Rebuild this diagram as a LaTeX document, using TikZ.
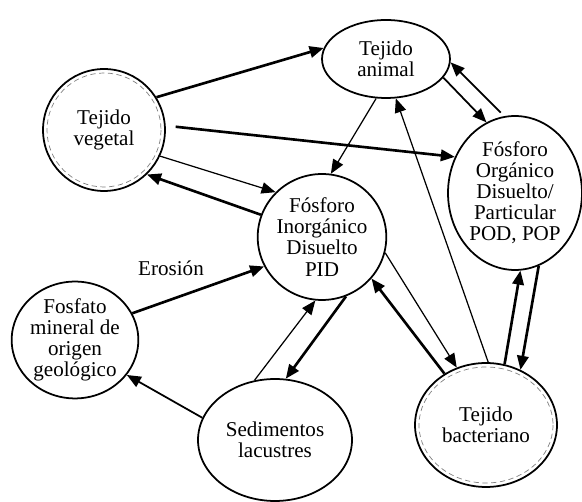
\documentclass[tikz,border=0pt]{standalone}
\usepackage{fontspec}
\setmainfont{Liberation Serif}
\usetikzlibrary{arrows.meta,shapes.geometric}

\begin{document}
\begin{tikzpicture}[x=0.02cm,y=-0.02cm,font=\fontsize{12}{12}\selectfont,
   comp/.style={draw,ellipse,line width=1pt,inner sep=0pt,align=center},
   flecha/.style={-{Triangle[length=8pt,width=6.5pt]}},
   gruesa/.style={flecha,line width=1.5pt},
   media/.style={flecha,line width=1pt},
   fina/.style={flecha,line width=0.7pt}]
  \useasboundingbox (0,0) rectangle (582,502);
  % compartimentos
  \node[comp,minimum width=2.44cm,minimum height=2.44cm] (veg) at (104,130) {Tejido\\vegetal};
  \node[comp,minimum width=2.56cm,minimum height=1.56cm] (ani) at (386,59) {Tejido\\animal};
  \node[comp,minimum width=2.68cm,minimum height=3.08cm] (pod) at (515,193)
       {Fósforo\\Orgánico\\Disuelto/\\Particular\\POD, POP};
  \node[comp,minimum width=2.56cm,minimum height=2.52cm] (pid) at (322,237)
       {Fósforo\\Inorgánico\\Disuelto\\PID};
  \node[comp,minimum width=2.48cm,minimum height=2.32cm] (fos) at (75,340)
       {Fosfato\\mineral de\\origen\\geológico};
  \node[comp,minimum width=3.08cm,minimum height=2.44cm] (sed) at (275,440) {Sedimentos\\lacustres};
  \node[comp,minimum width=2.84cm,minimum height=2.48cm] (bac) at (486,425) {Tejido\\bacteriano};
  \draw[gray,thin,densely dashed] (veg.center) circle[radius=57];
  \draw[gray,thin,densely dashed] (bac.center) ellipse[x radius=67,y radius=58];
  \node (eros) at (171,268) {Erosión};
  % flujos
  \draw[gruesa] (veg.32) -- (ani.170);
  \draw[gruesa,shorten <=2mm] (veg.4) -- (pod.149);
  \draw[fina] (veg.-25) -- (pid.136);
  \draw[gruesa] (pid.160) -- (veg.-46);
  \draw[fina] (ani.-104) -- (pid.82);
  \draw[media] (ani.-18) -- (pod.112);
  \draw[media,shorten <=1mm] (pod.98) -- (ani.-3);
  \draw[fina] (bac.88) -- (ani.-76);
  \draw[gruesa] (bac.73) -- (pod.-86);
  \draw[gruesa] (pod.-72) -- (bac.58);
  \draw[fina] (pid.-14) -- (bac.117);
  \draw[gruesa] (bac.129) -- (pid.-40);
  \draw[fina] (sed.109) -- (pid.-96);
  \draw[gruesa] (pid.-68) -- (sed.80);
  \draw[gruesa] (fos.25) -- (pid.207);
  \draw[media] (sed.163) -- (fos.-34);
\end{tikzpicture}
\end{document}
